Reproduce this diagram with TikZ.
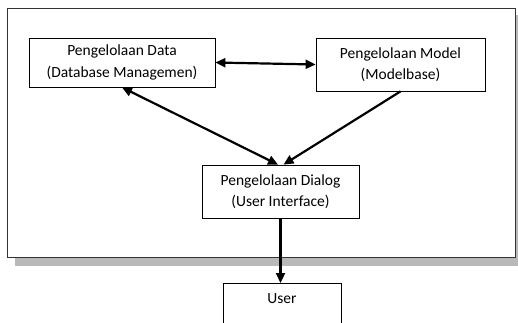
\documentclass[tikz,border=0pt]{standalone}
\usepackage{fontspec}
\setmainfont{Carlito}
\usetikzlibrary{arrows.meta}

\begin{document}
\begin{tikzpicture}[x=1pt,y=-1pt,
    box/.style={draw,line width=0.8pt,fill=white,align=center,font=\fontsize{15.5}{21.5}\selectfont},
    link/.style={line width=2.2pt,-{Triangle[length=10pt,width=9pt]}}]
        \useasboundingbox (0,0) rectangle (518,322);

        \fill[gray!55] (15,15) rectangle (523,265.5);
        \draw[fill=white,line width=1pt,draw=black!80] (7.5,8.5) rectangle (515,257.5);

        \node[box,minimum width=186,minimum height=49] (data) at (122,62.5) {Pengelolaan Data\\(Database Managemen)};
        \node[box,minimum width=169,minimum height=53] (model) at (400.5,64.5) {Pengelolaan Model\\(Modelbase)};
        \node[box,minimum width=157,minimum height=53] (dialog) at (280.5,191.5) {Pengelolaan Dialog\\(User Interface)};
        \node[box,anchor=north,minimum width=118,inner sep=4pt,text height=16pt,text depth=40pt] (user) at (282,283) {User};

        \draw[link,{Triangle[length=10pt,width=9pt]}-{Triangle[length=10pt,width=9pt]}] (data.east) -- (model.west);
        \draw[link,{Triangle[length=10pt,width=9pt]}-{Triangle[length=10pt,width=9pt]}] (data.south) -- ([xshift=-2.5pt]dialog.north);
        \draw[link] (model.south) -- ([xshift=3pt]dialog.north);
        \draw[link] (dialog.south) -- (dialog.south |- user.north);
    \end{tikzpicture}
\end{document}
